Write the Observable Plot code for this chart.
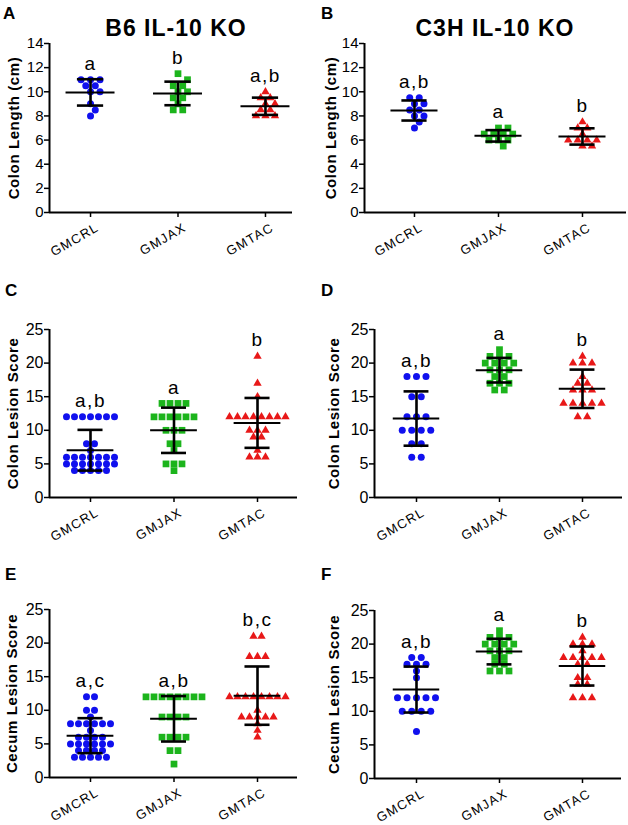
<!DOCTYPE html>
<html><head><meta charset="utf-8">
<script src="https://cdn.jsdelivr.net/npm/d3@7"></script>
<script src="https://cdn.jsdelivr.net/npm/@observablehq/plot@0.6"></script>
<style>
body{margin:0;background:#fff;}
#fig{position:relative;width:628px;height:825px;font-family:"Liberation Sans",Arial,sans-serif;}
.pl{position:absolute;}
.tag{position:absolute;font-weight:bold;font-size:17px;line-height:1;color:#000;}
.ttl{position:absolute;font-weight:bold;font-size:23px;line-height:1;letter-spacing:1px;color:#000;text-align:center;width:240px;}
</style></head><body><div id="fig"></div>
<script>
const groups = ["GMCRL","GMJAX","GMTAC"];
const colors = ["#1010ee","#1cb41c","#e81818"];
const symbols = ["circle","square","triangle"];

// A: B6 IL-10 KO, colon length (cm)
const b6LengthCRL = [11,11,11,10.5,10.5,10,10,9,8.5,8];
const b6LengthJAX = [11.5,11,10.5,10.5,10,10,9.5,9.5,9,8.5,8.5];
const b6LengthTAC = [10,9.5,9.5,9,9,8.5,8.5,8,8,8];
const lettersA = ["a","b","a,b"];
// B: C3H IL-10 KO, colon length (cm)
const c3hLengthCRL = [9.5,9.5,9,9,8.5,8.5,8,8,7.5,7];
const c3hLengthJAX = [7,7,6.5,6.5,6.5,6.5,6,6,6,5.5];
const c3hLengthTAC = [7.5,7,7,6.5,6,6,6,6,5.5,5.5];
const lettersB = ["a,b","a","b"];
// C: B6 colon lesion score
const b6ColonCRL = [12,12,12,12,12,12,12,8,8,7,6,6,6,6,6,6,6,5,5,5,5,5,5,5,4,4,4,4,4];
const b6ColonJAX = [14,14,14,14,12,12,12,12,12,12,10,10,10,8,8,7,5,5,5,4];
const b6ColonTAC = [21,17,15,12,12,12,12,12,12,12,12,10,10,10,9,9,7,6,6,6];
const lettersC = ["a,b","a","b"];
// D: C3H colon lesion score
const c3hColonCRL = [18,18,18,15,15,12,12,12,10,10,10,10,8,8,6,6];
const c3hColonJAX = [22,21,21,21,20,20,20,20,19,19,19,18,18,17,17,17,16,16];
const c3hColonTAC = [21,20,20,20,18,17,17,16,16,16,14,14,14,14,14,12,12];
const lettersD = ["a,b","a","b"];
// E: B6 cecum lesion score
const b6CecumCRL = [12,12,10,10,9,8,8,8,8,8,8,7,6,6,6,6,5,5,5,5,5,5,4,4,4,4,3,3,3,3,3];
const b6CecumJAX = [12,12,12,12,12,12,12,12,9,9,9,9,6,6,6,6,4,4,2];
const b6CecumTAC = [21,21,18,18,18,12,12,12,12,12,12,12,12,10,9,9,9,9,9,8,7,6];
const lettersE = ["a,c","a,b","b,c"];
// F: C3H cecum lesion score
const c3hCecumCRL = [18,18,17,17,17,16,15,12,12,12,12,12,10,10,10,10,7];
const c3hCecumJAX = [22,21,21,21,20,20,20,20,19,19,19,18,18,17,17,16,16,16];
const c3hCecumTAC = [21,20,20,20,19,18,18,18,18,18,17,17,15,15,14,14,12,12,12];
const lettersF = ["a,b","a","b"];

const panels = [
  {tag:"A", title:"B6 IL-10 KO", series:[b6LengthCRL,b6LengthJAX,b6LengthTAC], letters:lettersA, ylabel:"Colon Length (cm)", ymax:14, ystep:2,
   left:0, top:0, w:314, h:260, m:[43,22,48,49], xd:[-0.469,2.309], ydx:-35, tagPos:[3,5], titleC:176, gap:9.5},
  {tag:"B", title:"C3H IL-10 KO", series:[c3hLengthCRL,c3hLengthJAX,c3hLengthTAC], letters:lettersB, ylabel:"Colon Length (cm)", ymax:14, ystep:2,
   left:314, top:0, w:314, h:260, m:[43,2,48,50], xd:[-0.595,2.524], ydx:-33, tagPos:[321,5], titleC:495, gap:9.5},
  {tag:"C", series:[b6ColonCRL,b6ColonJAX,b6ColonTAC], letters:lettersC, ylabel:"Colon Lesion Score", ymax:25, ystep:5,
   left:0, top:260, w:314, h:275, m:[69,17,38,49], xd:[-0.491,2.479], ydx:-36, tagPos:[5,282], gap:8},
  {tag:"D", series:[c3hColonCRL,c3hColonJAX,c3hColonTAC], letters:lettersD, ylabel:"Colon Lesion Score", ymax:25, ystep:5,
   left:314, top:260, w:314, h:275, m:[69,6,38,60], xd:[-0.506,2.482], ydx:-40, tagPos:[321,282], gap:9.5},
  {tag:"E", series:[b6CecumCRL,b6CecumJAX,b6CecumTAC], letters:lettersE, ylabel:"Cecum Lesion Score", ymax:25, ystep:5,
   left:0, top:535, w:314, h:290, m:[74,17,48,49], xd:[-0.491,2.479], ydx:-37, tagPos:[5,566], gap:8},
  {tag:"F", series:[c3hCecumCRL,c3hCecumJAX,c3hCecumTAC], letters:lettersF, ylabel:"Cecum Lesion Score", ymax:25, ystep:5,
   left:314, top:535, w:314, h:290, m:[75,7,47,60], xd:[-0.506,2.47], ydx:-40, tagPos:[321,566], gap:9.5}
];

// scatter layout: rows of equal values centred, rows shifted sideways when they touch neighbours
function swarm(values, pxPerUnit, stepPx, dia) {
  const rows = d3.groups(values, v => v).map(([v, arr]) => ({v, n: arr.length}));
  rows.sort((a, b) => b.n - a.n || b.v - a.v);
  const placed = [], out = [];
  for (const r of rows) {
    const py = r.v * pxPerUnit;
    const base = d3.range(r.n).map(k => (k - (r.n - 1) / 2) * stepPx);
    let chosen = base;
    for (let s = 0; s < 24; s++) {
      const shift = s === 0 ? 0 : (s % 2 ? 1 : -1) * Math.ceil(s / 2) * stepPx / 2;
      const cand = base.map(b => b + shift);
      if (cand.every(cx => placed.every(p => Math.hypot(p.px - cx, p.py - py) >= dia * 0.9))) { chosen = cand; break; }
    }
    for (const cx of chosen) { placed.push({px: cx, py}); out.push({value: r.v, off: cx}); }
  }
  return out;
}

const fig = document.getElementById("fig");
for (const p of panels) {
  const [mt, mr, mb, ml] = p.m;
  const frameW = p.w - ml - mr, frameH = p.h - mt - mb;
  const pxX = frameW / (p.xd[1] - p.xd[0]);
  const pxY = frameH / p.ymax;
  const pts = p.series.map((vals, i) => swarm(vals, pxY, p.gap, 7).map(d => ({value: d.value, x: i + d.off / pxX})));
  const summary = p.series.map((vals, i) => {
    const mean = d3.mean(vals), sd = d3.deviation(vals);
    return {i, mean, lo: mean - sd, hi: mean + sd, top: d3.max(vals), letter: p.letters[i]};
  });
  const capW = 0.15, meanW = 0.28;
  const svg = Plot.plot({
    width: p.w, height: p.h, marginTop: mt, marginRight: mr, marginBottom: mb, marginLeft: ml,
    x: {domain: p.xd, axis: null},
    y: {domain: [0, p.ymax], axis: null},
    style: {fontFamily: '"Liberation Sans", Arial, sans-serif', color: "#000", background: "transparent", overflow: "visible"},
    marks: [
      ...[0, 1, 2].map(i => Plot.dot(pts[i], {x: "x", y: "value", symbol: symbols[i], fill: colors[i], r: i === 0 ? 3.5 : i === 1 ? 3.8 : 3.1})),
      Plot.ruleY(summary, {y: "mean", x1: d => d.i - meanW, x2: d => d.i + meanW, stroke: "#000", strokeWidth: 2}),
      Plot.ruleX(summary, {x: "i", y1: "lo", y2: "hi", stroke: "#000", strokeWidth: 2.6}),
      Plot.ruleY(summary, {y: "hi", x1: d => d.i - capW, x2: d => d.i + capW, stroke: "#000", strokeWidth: 2.6}),
      Plot.ruleY(summary, {y: "lo", x1: d => d.i - capW, x2: d => d.i + capW, stroke: "#000", strokeWidth: 2.6}),
      Plot.text(summary, {x: "i", y: "top", text: "letter", dy: -16, fontSize: 19, fill: "#000"}),
      Plot.axisY({ticks: d3.range(0, p.ymax + 0.001, p.ystep), tickSize: 5, tickPadding: 1, fontSize: p.ymax === 14 ? 15 : 16, strokeWidth: 1.5, label: null}),
      Plot.axisX({ticks: [0, 1, 2], tickFormat: () => "", tickSize: 5, strokeWidth: 1.5, label: null}),
      Plot.axisX({ticks: [0, 1, 2], tickFormat: i => groups[i], tickRotate: -30, tickSize: 0, tickPadding: 9, fontSize: 13, label: null, dx: 7, dy: 5}),
      Plot.ruleX([p.xd[0]], {stroke: "#000", strokeWidth: 2}),
      Plot.ruleY([0], {stroke: "#000", strokeWidth: 2}),
      Plot.text([p.ylabel], {frameAnchor: "left", textAnchor: "middle", lineAnchor: "middle", rotate: -90, dx: p.ydx, fontSize: 15, fontWeight: "bold", fill: "#000"})
    ]
  });
  svg.classList.add("pl");
  svg.style.left = p.left + "px";
  svg.style.top = p.top + "px";
  svg.querySelectorAll('g[font-weight="bold"]').forEach(g => g.setAttribute("letter-spacing", "0.6"));
  svg.querySelectorAll('g[font-size="13"]').forEach(g => g.setAttribute("letter-spacing", "1.2"));
  svg.querySelectorAll('g[font-size="19"]').forEach(g => g.setAttribute("letter-spacing", "1.5"));
  fig.appendChild(svg);

  const tag = document.createElement("div");
  tag.className = "tag";
  tag.textContent = p.tag;
  tag.style.left = p.tagPos[0] + "px";
  tag.style.top = p.tagPos[1] + "px";
  fig.appendChild(tag);
  if (p.title) {
    const t = document.createElement("div");
    t.className = "ttl";
    t.textContent = p.title;
    t.style.left = (p.titleC - 120) + "px";
    t.style.top = "17px";
    fig.appendChild(t);
  }
}
</script></body></html>
